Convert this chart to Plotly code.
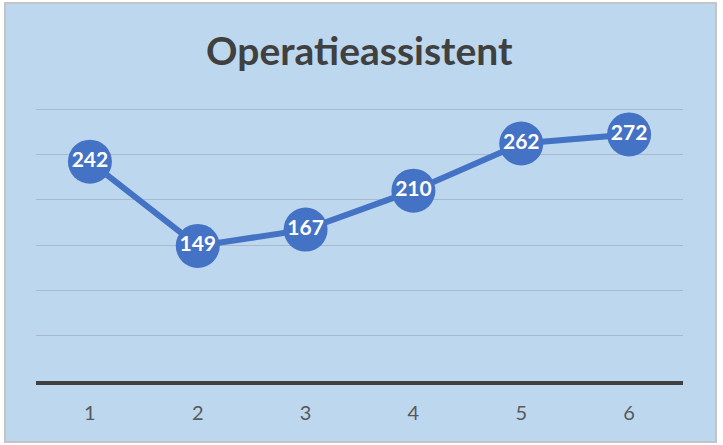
import plotly.graph_objects as go

categories = [1, 2, 3, 4, 5, 6]
values = [242, 149, 167, 210, 262, 272]
title_text = "Operatieassistent"

W, H = 723, 445
L, R, B = 36, 40, 64
YMAX = 310
# top gridline (300) at pixel 109, bottom (0) at pixel 381
ph = 272 * YMAX / 300
T = H - B - ph
pw = W - L - R

def px_x(x):
    return (x - L) / pw

def px_y(y):
    return (H - B - y) / ph

fig = go.Figure()
fig.add_trace(go.Scatter(
    x=categories, y=values, mode="lines+markers+text",
    line=dict(color="#4472C4", width=6),
    marker=dict(size=44, color="#4472C4"),
    text=[str(v) for v in values], textposition="middle center",
    textfont=dict(family="Lato", size=21, color="white", weight="bold"),
    cliponaxis=False, hoverinfo="skip",
))

fig.update_layout(
    width=W, height=H,
    margin=dict(l=L, r=R, t=T, b=B),
    paper_bgcolor="white", plot_bgcolor="rgba(0,0,0,0)",
    showlegend=False,
    title=dict(text=title_text, x=0.497, xanchor="center", y=1 - 51 / H, yanchor="middle",
               yref="container",
               font=dict(family="Lato", size=39, color="#404040", weight="bold")),
    xaxis=dict(range=[0.5, 6.5], tickvals=categories, ticktext=[str(c) for c in categories],
               showgrid=False, zeroline=False, showline=True, linecolor="#404040", linewidth=3.5,
               ticks="outside", ticklen=11, tickcolor="rgba(0,0,0,0)",
               tickfont=dict(family="Lato", size=20, color="#595959")),
    yaxis=dict(range=[0, YMAX], tickvals=[0, 50, 100, 150, 200, 250, 300], showgrid=True,
               gridcolor="#A9B9CB", gridwidth=1,
               zeroline=False, showticklabels=False, showline=False),
    shapes=[dict(type="rect", xref="paper", yref="paper", layer="below",
                 x0=px_x(5), x1=px_x(716), y0=px_y(442), y1=px_y(3),
                 fillcolor="#BDD7EE", line=dict(color="#C4C4C4", width=2))],
)

fig.write_html("out.html", config={"displayModeBar": False},
               post_script="document.body.style.margin='0';")
